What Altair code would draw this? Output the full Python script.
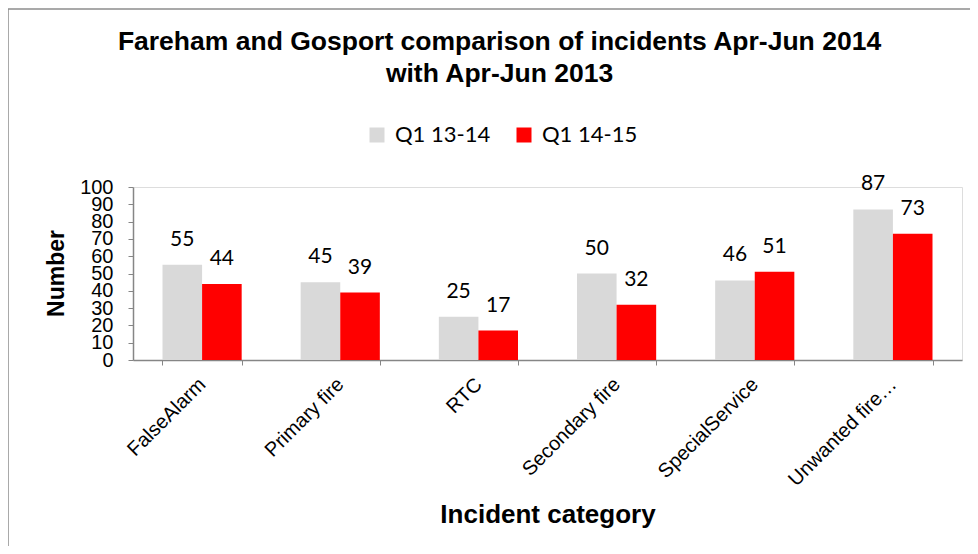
import altair as alt
import pandas as pd

categories = ["FalseAlarm", "Primary fire", "RTC", "Secondary fire", "SpecialService", "Unwanted fire…"]
series_names = ["Q1 13-14", "Q1 14-15"]
q1_13_14 = [55, 45, 25, 50, 46, 87]
q1_14_15 = [44, 39, 17, 32, 51, 73]
y_ticks = [0, 10, 20, 30, 40, 50, 60, 70, 80, 90, 100]
colors = ["#d9d9d9", "#ff0000"]

rows = []
for c, a, b in zip(categories, q1_13_14, q1_14_15):
    rows.append({"Category": c, "Series": series_names[0], "Value": a})
    rows.append({"Category": c, "Series": series_names[1], "Value": b})
df = pd.DataFrame(rows)

x = alt.X(
    "Category:N",
    sort=categories,
    scale=alt.Scale(paddingInner=0.427, paddingOuter=0.2135),
    axis=alt.Axis(
        title="Incident category",
        titleFont="Liberation Sans",
        titleFontSize=26,
        titleFontWeight="bold",
        titleColor="#000000",
        titleY=162,
        titleBaseline="alphabetic",
        labelFont="Liberation Sans",
        labelFontSize=20,
        labelColor="#000000",
        labelAngle=-45,
        labelAlign="right",
        labelBaseline="middle",
        labelPadding=16,
        tickBand="extent",
        tickSize=5,
        tickColor="#868686",
        domainColor="#868686",
        domainWidth=1.5,
        labelOverlap=False,
    ),
)
xo = alt.XOffset("Series:N", sort=series_names, scale=alt.Scale(paddingInner=0, paddingOuter=0))
y = alt.Y(
    "Value:Q",
    scale=alt.Scale(domain=[0, 100], nice=False),
    axis=alt.Axis(
        title="Number",
        titleFont="Liberation Sans",
        titleFontSize=23,
        titleFontWeight="bold",
        titleColor="#000000",
        titleX=-77,
        titleY=86,
        titleBaseline="middle",
        values=y_ticks,
        labelFont="Liberation Sans",
        labelFontSize=20,
        labelColor="#000000",
        labelPadding=15,
        labelOverlap=False,
        tickSize=5,
        tickColor="#868686",
        domainColor="#868686",
        domainWidth=1.5,
        grid=False,
    ),
)
color = alt.Color(
    "Series:N",
    sort=series_names,
    scale=alt.Scale(domain=series_names, range=colors),
    legend=alt.Legend(
        title=None,
        orient="none",
        direction="horizontal",
        legendX=233,
        legendY=-63,
        symbolType="square",
        symbolSize=225,
        symbolStrokeWidth=0,
        labelFont="Lato",
        labelFontSize=22,
        labelColor="#000000",
        labelOffset=7,
        columnPadding=22,
        padding=0,
    ),
)

base = alt.Chart(df)
bars = base.mark_bar().encode(x=x, xOffset=xo, y=y, color=color)
labels = base.mark_text(
    font="Lato", fontSize=21, color="#000000", baseline="alphabetic", dy=-19
).encode(x=x, xOffset=xo, y=y, text="Value:Q")

frame_df = pd.DataFrame({"f": [0]})
left_border = alt.Chart(frame_df).mark_rule(color="#8c8c8c", strokeWidth=1.5).encode(
    x=alt.value(-125), y=alt.value(-178), y2=alt.value(400)
)
top_border = alt.Chart(frame_df).mark_rule(color="#8c8c8c", strokeWidth=1.5).encode(
    x=alt.value(-125), x2=alt.value(900), y=alt.value(-178)
)

chart = alt.layer(bars, labels, left_border, top_border).properties(
    width=829,
    height=173,
    padding={"left": 125, "top": 179, "right": 8, "bottom": 186},
    autosize=alt.AutoSizeParams(type="none"),
    title=alt.TitleParams(
        text=["Fareham and Gosport comparison of incidents Apr-Jun 2014", "with Apr-Jun 2013"],
        font="Liberation Sans",
        fontSize=26.5,
        fontWeight="bold",
        color="#000000",
        lineHeight=32,
        anchor="middle",
        dx=-48,
        offset=-79,
    ),
).configure_view(stroke=None).configure(background="#ffffff")

chart.save("out.html", embed_options={"renderer": "svg", "actions": False})
